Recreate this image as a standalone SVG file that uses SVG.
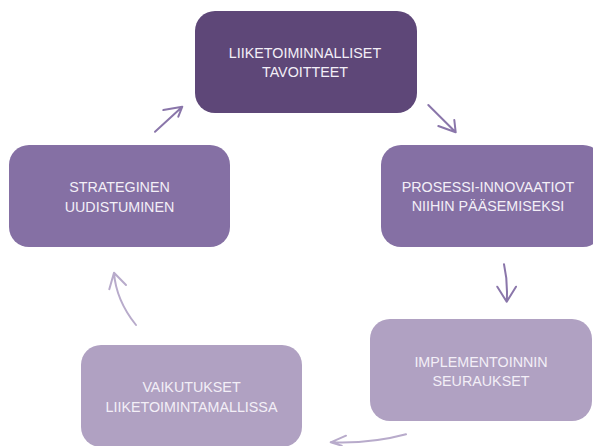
<svg xmlns="http://www.w3.org/2000/svg" width="593" height="446" viewBox="0 0 593 446">
<style>
.t{font-family:"Liberation Sans",Arial,sans-serif;font-size:14.3px;fill:#f3eff7;text-anchor:middle}
.dark{fill:#5e4778}
.mid{fill:#8570a4}
.light{fill:#b0a1c2}
.a1{fill:none;stroke:#8a76aa;stroke-width:2;stroke-linecap:round;stroke-linejoin:round}
.a2{fill:none;stroke:#b8abcb;stroke-width:2;stroke-linecap:round;stroke-linejoin:round}
</style>
<rect width="593" height="446" fill="#ffffff"/>
<g id="n1">
<rect class="dark" x="195" y="11" width="222" height="102" rx="20"/>
<text class="t" x="305" y="57.5">LIIKETOIMINNALLISET</text>
<text class="t" x="305" y="77">TAVOITTEET</text>
</g>
<g id="n2">
<rect class="mid" x="381" y="145" width="222" height="102" rx="20"/>
<text class="t" x="488" y="191.7">PROSESSI-INNOVAATIOT</text>
<text class="t" x="488" y="211">NIIHIN PÄÄSEMISEKSI</text>
</g>
<g id="n3">
<rect class="mid" x="9" y="145" width="221" height="102" rx="20"/>
<text class="t" x="119.5" y="192.3">STRATEGINEN</text>
<text class="t" x="119.5" y="211.7">UUDISTUMINEN</text>
</g>
<g id="n4">
<rect class="light" x="370" y="319" width="222" height="102" rx="20"/>
<text class="t" x="481" y="366.7">IMPLEMENTOINNIN</text>
<text class="t" x="481" y="385.7">SEURAUKSET</text>
</g>
<g id="n5">
<rect class="light" x="81" y="345" width="221" height="102" rx="20"/>
<text class="t" x="191.5" y="392.3">VAIKUTUKSET</text>
<text class="t" x="191.5" y="411.7">LIIKETOIMINTAMALLISSA</text>
</g>
<g id="connectors">
<path class="a1" d="M155,131.7 L182.3,106.7 M163.3,110 L182.3,106.7 L178.3,116.7"/>
<path class="a1" d="M428.3,105 L455.7,132.3 M454.3,120 L455.7,132.3 L438.3,126"/>
<path class="a1" d="M504,264.3 Q508,282 506.7,301.7 M497.3,286.7 L506.7,301.7 L516,286.7"/>
<path class="a2" d="M136,325 Q116,300 114,272.7 M109.3,289.3 L114,272.7 L126,285"/>
<path class="a2" d="M406,434.3 Q370,444 330.7,442.3 M346,435.7 L330.7,442.3 L341.7,445.7"/>
</g>
</svg>
